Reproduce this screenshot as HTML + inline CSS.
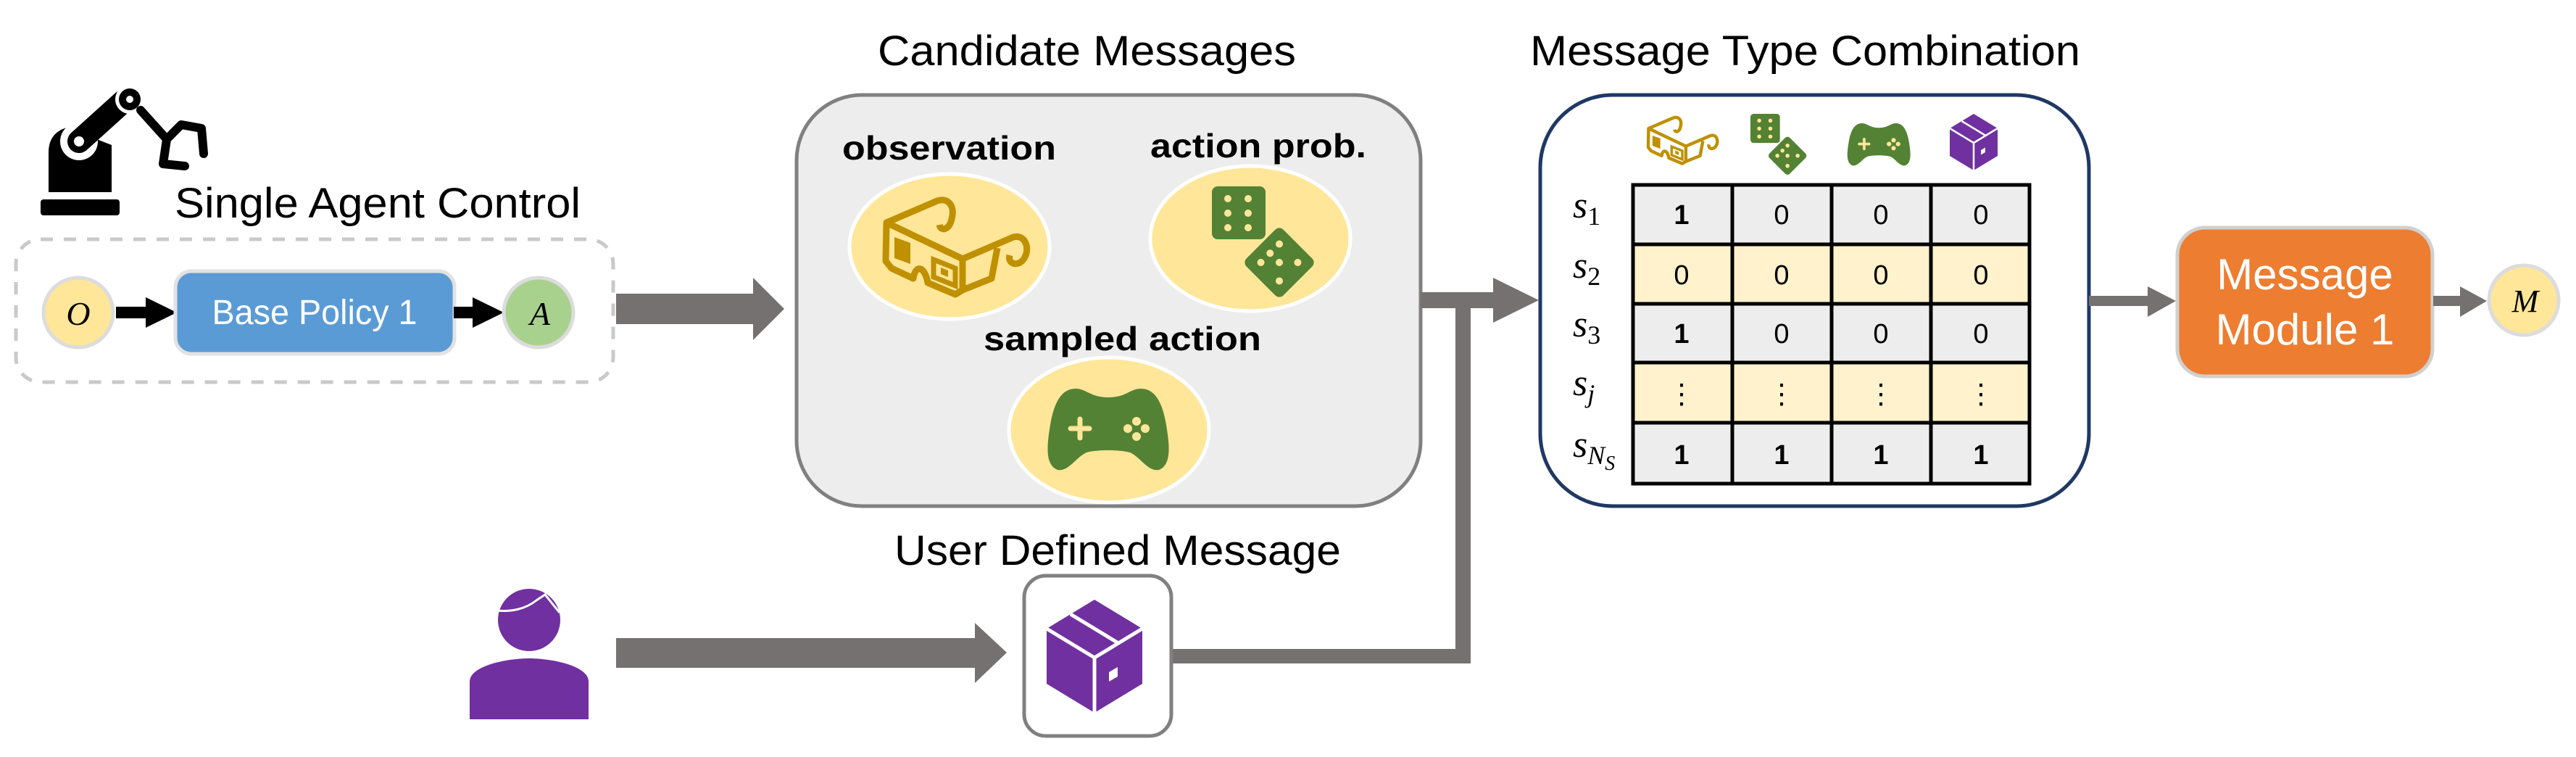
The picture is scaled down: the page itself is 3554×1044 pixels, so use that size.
<!DOCTYPE html>
<html><head><meta charset="utf-8"><style>
html,body{margin:0;padding:0;background:#fff;}
svg{display:block;}
text{font-family:"Liberation Sans",sans-serif;}
.serif{font-family:"Liberation Serif",serif;font-style:italic;}
</style></head><body>
<svg width="3554" height="1044" viewBox="0 0 3554 1044" xmlns="http://www.w3.org/2000/svg">
<defs>
<g id="glasses">
  <path d="M5,35 L75,5 C90,0 100,12 95,30 C92,45 80,48 78,38" fill="none" stroke="#bf9000" stroke-width="9" stroke-linejoin="round"/>
  <path d="M5,35 L110,85 L110,128 L100,134 L62,118 C58,95 45,92 42,112 L12,98 L4,88 Z" fill="none" stroke="#bf9000" stroke-width="9" stroke-linejoin="round"/>
  <path d="M110,85 L180,55 C198,50 205,75 192,88 C185,95 172,92 175,80" fill="none" stroke="#bf9000" stroke-width="9" stroke-linejoin="round"/>
  <path d="M110,128 L150,112 L158,70" fill="none" stroke="#bf9000" stroke-width="9" stroke-linejoin="round"/>
  <polygon points="16,55 38,63 38,92 16,84" fill="#bf9000"/>
  <polygon points="70,86 100,98 100,122 70,110" fill="none" stroke="#bf9000" stroke-width="7"/>
  <polygon points="80,97 90,101 90,110 80,106" fill="#bf9000"/>
</g>
<g id="dice">
  <rect x="0" y="0" width="74" height="73" rx="8" fill="#548235"/>
  <g fill="#ffe699"><circle cx="22" cy="17" r="5"/><circle cx="50" cy="17" r="5"/><circle cx="22" cy="37" r="5"/><circle cx="50" cy="37" r="5"/><circle cx="22" cy="57" r="5"/><circle cx="50" cy="57" r="5"/></g>
  <g transform="translate(93,105) rotate(45)">
    <rect x="-36" y="-36" width="72" height="72" rx="8" fill="#548235"/>
    <g fill="#ffe699"><circle cx="-18" cy="-18" r="5"/><circle cx="18" cy="-18" r="5"/><circle cx="0" cy="0" r="5"/><circle cx="-18" cy="18" r="5"/><circle cx="18" cy="18" r="5"/><circle cx="-18" cy="0" r="5"/></g>
  </g>
</g>
<g id="pad">
  <path d="M40,0 C20,0 10,20 5,50 C0,80 -2,105 15,112 C30,115 40,95 55,88 C70,84 100,84 115,88 C130,95 140,115 155,112 C172,105 170,80 165,50 C160,20 150,0 130,0 C115,0 110,12 85,12 C60,12 55,0 40,0 Z" fill="#548235"/>
  <path d="M46,42 V68 M33,55 H59" stroke="#ffe699" stroke-width="7" stroke-linecap="round"/>
  <g fill="#ffe699"><circle cx="124" cy="45" r="6"/><circle cx="112" cy="55" r="6"/><circle cx="136" cy="55" r="6"/><circle cx="124" cy="66" r="6"/></g>
</g>
<g id="cube">
  <polygon points="0,40 66,0 132,40 66,80" fill="#7030a0"/>
  <polygon points="0,40 66,80 66,156 0,116" fill="#7030a0"/>
  <polygon points="66,80 132,40 132,116 66,156" fill="#7030a0"/>
  <path d="M0,40 L66,80 L132,40 M66,80 V156 M33,20 L99,60" stroke="#fff" stroke-width="5" fill="none"/>
  <polygon points="86,100 98,93 98,106 86,113" fill="#fff"/>
</g>
</defs>

<!-- Robot -->
<g fill="#000">
  <rect x="56" y="275" width="109" height="22" rx="4"/>
  <path d="M67,265 V210 C67,190 78,180 92,176 L154,200 V265 Z"/>
  <circle cx="109" cy="195" r="26" fill="#fff"/>
  <line x1="109" y1="195" x2="170" y2="140" stroke="#000" stroke-width="32" stroke-linecap="round"/>
  <circle cx="109" cy="195" r="7" fill="#fff"/>
  <circle cx="179" cy="137" r="20" fill="#fff"/>
  <circle cx="179" cy="137" r="15"/>
  <circle cx="179" cy="137" r="5" fill="#fff"/>
  <path d="M194,152 L230,192 M230,192 L250,172 L278,177 L281,212 M230,192 L225,226 L255,229" stroke="#000" stroke-width="12" fill="none" stroke-linecap="round" stroke-linejoin="round"/>
</g>
<text x="241" y="300" font-size="58" textLength="560" lengthAdjust="spacingAndGlyphs">Single Agent Control</text>

<!-- dashed box -->
<rect x="22" y="330" width="824" height="197" rx="34" fill="none" stroke="#c9c9c9" stroke-width="5" stroke-dasharray="17 15"/>
<circle cx="108" cy="431" r="48" fill="#ffe699" stroke="#dcdcdc" stroke-width="5"/>
<text x="108" y="448" font-size="46" text-anchor="middle" class="serif">O</text>
<rect x="160" y="423" width="42" height="16"/>
<polygon points="201,410 244,431 201,452"/>
<rect x="242" y="374" width="385" height="114" rx="22" fill="#5b9bd5" stroke="#e2e2e2" stroke-width="5"/>
<text x="434" y="447" font-size="48" fill="#fff" text-anchor="middle" textLength="283" lengthAdjust="spacingAndGlyphs">Base Policy 1</text>
<rect x="626" y="423" width="28" height="16"/>
<polygon points="652,410 695,431 652,452"/>
<circle cx="743" cy="431" r="48" fill="#a9d18e" stroke="#dcdcdc" stroke-width="5"/>
<text x="745" y="448" font-size="46" text-anchor="middle" class="serif">A</text>

<!-- big arrow -->
<rect x="850" y="405" width="192" height="42" fill="#767171"/>
<polygon points="1039,383 1082,426 1039,469" fill="#767171"/>

<!-- Candidate Messages -->
<text x="1211" y="90" font-size="58" textLength="577" lengthAdjust="spacingAndGlyphs">Candidate Messages</text>
<rect x="1099" y="131" width="861" height="567" rx="90" fill="#ededed" stroke="#808080" stroke-width="5"/>
<text x="1162" y="220" font-size="46" font-weight="bold" textLength="295" lengthAdjust="spacingAndGlyphs">observation</text>
<ellipse cx="1310" cy="340" rx="138" ry="100" fill="#ffe699" stroke="#fff" stroke-width="5"/>
<use href="#glasses" x="1218" y="272"/>
<text x="1587" y="217" font-size="46" font-weight="bold" textLength="298" lengthAdjust="spacingAndGlyphs">action prob.</text>
<ellipse cx="1725" cy="329" rx="138" ry="100" fill="#ffe699" stroke="#fff" stroke-width="5"/>
<use href="#dice" x="1672" y="257"/>
<text x="1357" y="483" font-size="46" font-weight="bold" textLength="383" lengthAdjust="spacingAndGlyphs">sampled action</text>
<ellipse cx="1530" cy="593" rx="138" ry="100" fill="#ffe699" stroke="#fff" stroke-width="5"/>
<use href="#pad" x="1444" y="536"/>

<!-- connectors -->
<rect x="1960" y="403" width="103" height="22" fill="#767171"/>
<polygon points="2060,383 2123,414 2060,445" fill="#767171"/>
<rect x="2008" y="403" width="21" height="512" fill="#767171"/>
<rect x="1617" y="895" width="412" height="20" fill="#767171"/>

<!-- user -->
<circle cx="730" cy="855" r="43" fill="#7030a0"/>
<path d="M686,842 C705,844 725,840 740,828 L752,820 L772,845" stroke="#fff" stroke-width="3" fill="none"/>
<path d="M648,992 V940 C648,918 700,908 730,908 C760,908 812,918 812,940 V992 Z" fill="#7030a0"/>
<rect x="850" y="880" width="498" height="41" fill="#767171"/>
<polygon points="1345,859 1389,900 1345,942" fill="#767171"/>

<text x="1234" y="779" font-size="58" textLength="616" lengthAdjust="spacingAndGlyphs">User Defined Message</text>
<rect x="1413" y="794" width="203" height="221" rx="30" fill="#fff" stroke="#808080" stroke-width="5"/>
<use href="#cube" x="1444" y="827"/>

<!-- Message Type Combination -->
<text x="2111" y="90" font-size="58" textLength="759" lengthAdjust="spacingAndGlyphs">Message Type Combination</text>
<rect x="2125" y="131" width="757" height="567" rx="100" fill="#fff" stroke="#1f3864" stroke-width="5"/>
<use href="#glasses" transform="translate(2272,160) scale(0.49)"/>
<use href="#dice" transform="translate(2415,157) scale(0.55)"/>
<use href="#pad" transform="translate(2548,170) scale(0.52)"/>
<use href="#cube" transform="translate(2690,157) scale(0.5)"/>

<g>
<rect x="2251" y="253" width="551" height="84" fill="#ededed"/>
<rect x="2251" y="337" width="551" height="82" fill="#fff2cc"/>
<rect x="2251" y="419" width="551" height="81" fill="#ededed"/>
<rect x="2251" y="500" width="551" height="83" fill="#fff2cc"/>
<rect x="2251" y="583" width="551" height="86" fill="#ededed"/>
<g stroke="#000" stroke-width="5" fill="none">
<rect x="2253" y="255" width="547" height="412"/>
<path d="M2390,253 V669 M2527,253 V669 M2664,253 V669 M2251,337 H2802 M2251,419 H2802 M2251,500 H2802 M2251,583 H2802"/>
</g>
<g font-size="38" text-anchor="middle">
<text x="2320" y="309" font-weight="bold">1</text><text x="2458" y="309">0</text><text x="2595" y="309">0</text><text x="2733" y="309">0</text>
<text x="2320" y="392">0</text><text x="2458" y="392">0</text><text x="2595" y="392">0</text><text x="2733" y="392">0</text>
<text x="2320" y="473" font-weight="bold">1</text><text x="2458" y="473">0</text><text x="2595" y="473">0</text><text x="2733" y="473">0</text>
<text x="2320" y="556">⋮</text><text x="2458" y="556">⋮</text><text x="2595" y="556">⋮</text><text x="2733" y="556">⋮</text>
<text x="2320" y="640" font-weight="bold">1</text><text x="2458" y="640" font-weight="bold">1</text><text x="2595" y="640" font-weight="bold">1</text><text x="2733" y="640" font-weight="bold">1</text>
</g>
<g font-size="52">
<text x="2170" y="300" class="serif">s<tspan font-size="36" style="font-style:normal" dy="10">1</tspan></text>
<text x="2170" y="383" class="serif">s<tspan font-size="36" style="font-style:normal" dy="10">2</tspan></text>
<text x="2170" y="464" class="serif">s<tspan font-size="36" style="font-style:normal" dy="10">3</tspan></text>
<text x="2170" y="545" class="serif">s<tspan font-size="36" dy="10">j</tspan></text>
<text x="2170" y="630" class="serif">s<tspan font-size="36" dy="10">N</tspan><tspan font-size="28" dy="8">S</tspan></text>
</g>
</g>

<!-- to message module -->
<rect x="2882" y="408" width="84" height="14" fill="#767171"/>
<polygon points="2963,395 3002,415 2963,437" fill="#767171"/>
<rect x="3004" y="314" width="352" height="205" rx="38" fill="#ed7d31" stroke="#d0d0d0" stroke-width="5"/>
<text x="3180" y="399" font-size="60" fill="#fff" text-anchor="middle">Message</text>
<text x="3180" y="475" font-size="60" fill="#fff" text-anchor="middle">Module 1</text>
<rect x="3357" y="408" width="40" height="14" fill="#767171"/>
<polygon points="3394,395 3431,415 3394,437" fill="#767171"/>
<circle cx="3482" cy="414" r="48" fill="#ffe699" stroke="#dcdcdc" stroke-width="5"/>
<text x="3484" y="430" font-size="44" text-anchor="middle" class="serif">M</text>
</svg>
</body></html>
